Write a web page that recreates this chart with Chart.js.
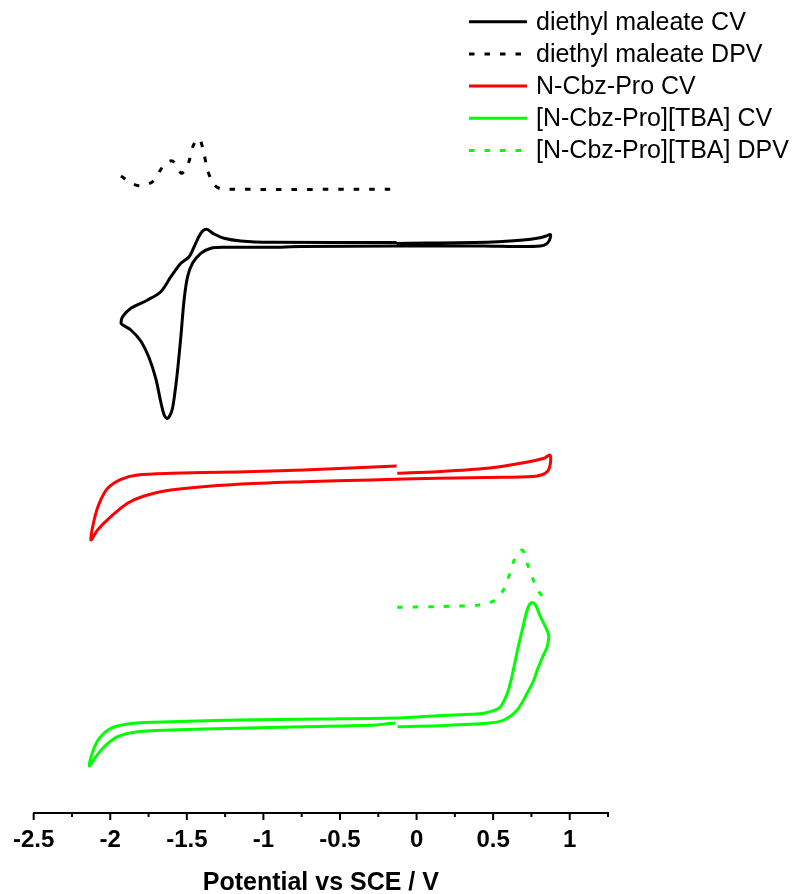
<!DOCTYPE html>
<html>
<head>
<meta charset="utf-8">
<script src="https://cdn.jsdelivr.net/npm/chart.js@4.4.1/dist/chart.umd.min.js"></script>
<style>
  html, body { margin: 0; padding: 0; background: #fff; }
  #wrap { width: 806px; height: 894px; position: relative; }
</style>
</head>
<body>
<div id="wrap"><canvas id="cvChart" width="806" height="894"></canvas></div>
<script>
// --- Data (potential in V vs SCE, current in arbitrary offset units) ---
const dmCvV = [-0.130, 0.496, 0.696, 0.796, 0.846, 0.874, 0.868, 0.848, 0.809, 0.653, 0.437, -0.130, -0.756, -0.952,
    -1.257, -1.343, -1.409, -1.463, -1.495, -1.518, -1.539, -1.565, -1.593, -1.614, -1.630, -1.648, -1.670, -1.702,
    -1.746, -1.801, -1.865, -1.918, -1.930, -1.919, -1.865, -1.756, -1.670, -1.604, -1.539, -1.485, -1.452, -1.409,
    -1.372, -1.322, -1.257, -1.148, -0.952, -0.130];
const dmCvI = [569.5, 571, 573, 575, 577, 578.5, 573, 569, 567, 566.5, 567, 567, 566.5, 565.7,
    565.7, 564.7, 559.7, 549.7, 536.3, 513, 476.3, 436.3, 405, 396.5, 394.5, 398, 411, 434,
    455, 472, 483, 488, 489.7, 496.3, 504.7, 513, 521.3, 536.3, 549.7, 556.3, 566.3, 579.7,
    583.7, 579, 574.7, 572, 570.7, 570.5];

const dmDpvV = [-1.930, -1.909, -1.865, -1.811, -1.767, -1.724, -1.665, -1.630, -1.593, -1.565, -1.535, -1.513,
    -1.485, -1.459, -1.435, -1.415, -1.387, -1.365, -1.326, -1.285, -1.233, -0.170];
const dmDpvI = [637, 634.7, 630, 627.3, 628.5, 631.3, 644.7, 650.5, 652, 646, 639.7, 643,
    652, 667, 673, 674, 658.7, 643, 629, 624.5, 623.7, 623.7];

const proCvV = [-0.126, 0.135, 0.462, 0.679, 0.831, 0.870, 0.874, 0.853, 0.788, 0.570, 0.135, -0.300, -0.735,
    -1.169, -1.604, -1.779, -1.887, -1.996, -2.083, -2.126, -2.105, -2.072, -2.017, -1.930, -1.822, -1.604,
    -1.169, -0.735, -0.130];
const proCvI = [339.7, 341.3, 344.7, 349.7, 354.7, 358, 349.7, 341.3, 337, 335.7, 334.7, 333, 331.3,
    328.7, 323, 317, 309.7, 296.3, 283, 273, 293, 309.7, 324.7, 333.7, 338, 339.7,
    341, 343, 347];

const tbaCvV = [-0.137, -0.182, -0.260, -0.735, -1.169, -1.604, -1.822, -1.952, -2.039, -2.094, -2.137, -2.115,
    -2.072, -1.996, -1.887, -1.713, -1.169, -0.626, -0.083, 0.135, 0.353, 0.439, 0.537, 0.574, 0.600, 0.620,
    0.640, 0.662, 0.690, 0.718, 0.737, 0.754, 0.777, 0.809, 0.842, 0.863, 0.861, 0.853, 0.820, 0.788, 0.766,
    0.722, 0.657, 0.570, 0.462, 0.135, -0.124];
const tbaCvI = [90, 89.5, 88, 86.3, 84.7, 83, 81.3, 76.3, 66.3, 56.3, 47, 61.3,
    74.7, 84.7, 89, 90.7, 93, 94, 95.3, 97.3, 98.7, 99.7, 104.7, 113, 123, 135,
    149, 165, 183, 201, 208.5, 210.5, 208, 196.3, 186, 178, 173, 166.3, 155, 143, 133,
    119.7, 103, 93, 89.7, 87.3, 86.3];

const tbaDpvV = [-0.126, 0.157, 0.407, 0.505, 0.570, 0.609, 0.640, 0.690, 0.722, 0.762, 0.805, 0.822];
const tbaDpvI = [205.7, 206.5, 208, 212.3, 223.7, 239.7, 253.7, 263, 249.7, 233, 219.7, 217];

const seriesLabels = ['diethyl maleate CV', 'diethyl maleate DPV', 'N-Cbz-Pro CV', '[N-Cbz-Pro][TBA] CV', '[N-Cbz-Pro][TBA] DPV'];
const xTickLabels = ['-2.5', '-2', '-1.5', '-1', '-0.5', '0', '0.5', '1'];

// --- Helpers ---
function toPoints(xs, ys) {
    return xs.map((x, i) => ({ x: x, y: ys[i] }));
}

const FONT = '"Liberation Sans", Arial, Helvetica, sans-serif';
const DASH = [5.5, 10];

function lineSet(label, xs, ys, color, dashed) {
    return {
        label: label,
        data: toPoints(xs, ys),
        showLine: true,
        borderColor: color,
        backgroundColor: color,
        borderWidth: 3,
        borderDash: dashed ? DASH : [],
        pointRadius: 0,
        tension: 0.3,
        fill: false
    };
}

// Legend drawn in the top-right corner, like the original figure
const cornerLegend = {
    id: 'cornerLegend',
    afterDraw(chart) {
        const ctx = chart.ctx;
        ctx.save();
        ctx.font = '25px ' + FONT;
        ctx.textBaseline = 'middle';
        ctx.fillStyle = '#000';
        chart.data.datasets.forEach((ds, i) => {
            const y = 21.7 + i * 32.2;
            ctx.strokeStyle = ds.borderColor;
            ctx.lineWidth = 3;
            ctx.setLineDash(ds.borderDash);
            ctx.beginPath();
            ctx.moveTo(469, y);
            ctx.lineTo(527, y);
            ctx.stroke();
            ctx.setLineDash([]);
            ctx.fillText(ds.label, 536, y + 1);
        });
        ctx.restore();
    }
};

// Major / minor tick marks below the x axis line
const axisTicks = {
    id: 'axisTicks',
    afterDraw(chart) {
        const xs = chart.scales.x;
        const ctx = chart.ctx;
        ctx.save();
        ctx.strokeStyle = '#000';
        ctx.lineWidth = 2;
        for (let k = 0; k <= 15; k++) {
            const v = -2.5 + k * 0.25;
            const px = xs.getPixelForValue(v);
            const len = (k % 2 === 0) ? 7 : 4;
            ctx.beginPath();
            ctx.moveTo(px, xs.top);
            ctx.lineTo(px, xs.top + len);
            ctx.stroke();
        }
        ctx.restore();
    }
};

const ctx = document.getElementById('cvChart').getContext('2d');
new Chart(ctx, {
    type: 'scatter',
    data: {
        datasets: [
            lineSet(seriesLabels[0], dmCvV, dmCvI, '#000000', false),
            lineSet(seriesLabels[1], dmDpvV, dmDpvI, '#000000', true),
            lineSet(seriesLabels[2], proCvV, proCvI, '#ff0000', false),
            lineSet(seriesLabels[3], tbaCvV, tbaCvI, '#00ff00', false),
            lineSet(seriesLabels[4], tbaDpvV, tbaDpvI, '#00ff00', true)
        ]
    },
    options: {
        responsive: false,
        animation: false,
        layout: { padding: { left: 33, right: 198, top: 0, bottom: 0 } },
        plugins: { legend: { display: false }, tooltip: { enabled: false } },
        scales: {
            x: {
                type: 'linear',
                min: -2.5,
                max: 1.25,
                grid: { display: false, drawTicks: false },
                border: { display: true, color: '#000', width: 2 },
                ticks: {
                    stepSize: 0.5,
                    includeBounds: false,
                    padding: 13,
                    color: '#000',
                    font: { family: FONT, size: 24, weight: 'bold' },
                    callback: (v) => {
                        const idx = Math.round((v + 2.5) / 0.5);
                        return Math.abs(v - (-2.5 + idx * 0.5)) < 1e-6 ? xTickLabels[idx] : '';
                    }
                },
                title: {
                    display: true,
                    text: 'Potential vs SCE / V',
                    color: '#000',
                    padding: { top: 0, bottom: 0 },
                    font: { family: FONT, size: 25, weight: 'bold', lineHeight: 0.85 }
                },
                afterFit: (scale) => { scale.height = 81; }
            },
            y: {
                type: 'linear',
                display: false,
                min: 0,
                max: 813
            }
        }
    },
    plugins: [cornerLegend, axisTicks]
});
</script>
</body>
</html>
